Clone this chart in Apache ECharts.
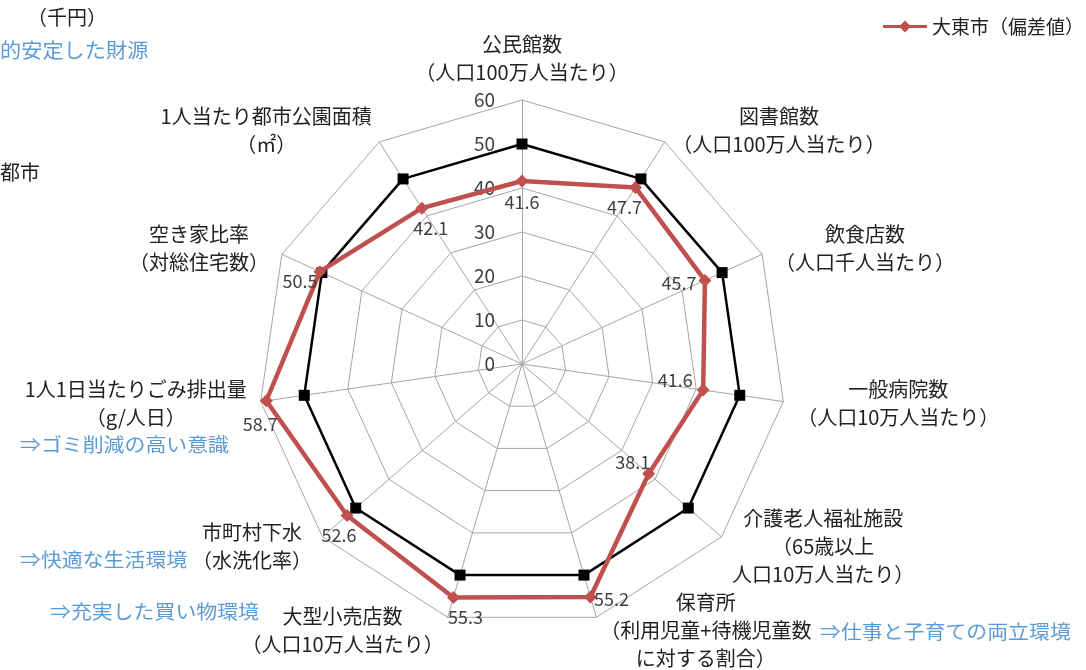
<!DOCTYPE html>
<html>
<head>
<meta charset="utf-8">
<script src="https://cdn.jsdelivr.net/npm/echarts@6/dist/echarts.min.js"></script>
<style>
  html, body { margin: 0; padding: 0; background: #fff; }
  #chart { width: 1086px; height: 670px; }
</style>
</head>
<body>
<div id="chart"></div>
<script>
// Indicators listed clockwise from the top
const indicatorNames = [
  '公民館数\n（人口100万人当たり）',
  '図書館数\n（人口100万人当たり）',
  '飲食店数\n（人口千人当たり）',
  '一般病院数\n（人口10万人当たり）',
  '介護老人福祉施設\n（65歳以上\n人口10万人当たり）',
  '保育所\n（利用児童+待機児童数\nに対する割合）',
  '大型小売店数\n（人口10万人当たり）',
  '市町村下水\n（水洗化率）',
  '1人1日当たりごみ排出量\n（g/人日）',
  '空き家比率\n（対総住宅数）',
  '1人当たり都市公園面積\n（㎡）'
];
const daitoValues = [41.6, 47.7, 45.7, 41.6, 38.1, 55.2, 55.3, 52.6, 58.7, 50.5, 42.1];
const averageValues = [50, 50, 50, 50, 50, 50, 50, 50, 50, 50, 50];
const axisMin = 0;
const axisMax = 60;
const axisStep = 10;
const seriesName = '大東市（偏差値）';

// Side notes written beside the chart
const notes = [
  { text: '（千円）', x: 67, y: 17, align: 'center', color: '#222', size: 20, sx: 1 },
  { text: '的安定した財源', x: 0, y: 50, align: 'left', color: '#5b9bd5', size: 20, sx: 1.06 },
  { text: '都市', x: 0, y: 172, align: 'left', color: '#222', size: 20, sx: 1 },
  { text: '⇒ゴミ削減の高い意識', x: 20, y: 445, align: 'left', color: '#5b9bd5', size: 19, sx: 1.1 },
  { text: '⇒快適な生活環境', x: 20, y: 560, align: 'left', color: '#5b9bd5', size: 19, sx: 1.1 },
  { text: '⇒充実した買い物環境', x: 50, y: 612, align: 'left', color: '#5b9bd5', size: 19, sx: 1.1 },
  { text: '⇒仕事と子育ての両立環境', x: 820, y: 632, align: 'left', color: '#5b9bd5', size: 19, sx: 1.1 }
];

// Placement of each value label around its vertex (clockwise order)
const labelPlacement = [
  { position: 'bottom', distance: 12, offset: [0, 0] },
  { position: 'bottom', distance: 10, offset: [-11, 0] },
  { position: 'left', distance: 8, offset: [0, 3] },
  { position: 'left', distance: 8, offset: [-2, -10] },
  { position: 'top', distance: 2, offset: [-16, 0] },
  { position: 'right', distance: 3, offset: [0, 2] },
  { position: 'bottom', distance: 10, offset: [12, 0] },
  { position: 'bottom', distance: 10, offset: [-8, 0] },
  { position: 'bottom', distance: 14, offset: [-6, 0] },
  { position: 'left', distance: 2, offset: [0, 9] },
  { position: 'bottom', distance: 10, offset: [9, 0] }
];

const FONT = '"Noto Sans CJK JP", "Noto Sans", sans-serif';

// ECharts lays radar indicators out counter-clockwise; map the clockwise list onto that
const n = indicatorNames.length;
const order = [0];
for (let i = n - 1; i >= 1; i--) order.push(i);

const indicator = order.map((k, j) => {
  const item = { name: indicatorNames[k], min: axisMin, max: axisMax };
  if (j === 0) {
    item.axisLabel = {
      show: true, color: '#404040', fontSize: 19, fontFamily: FONT, margin: 27,
      formatter: v => String(v)
    };
  }
  return item;
});

const series = [
  {
    type: 'radar',
    name: '平均',
    z: 2,
    symbol: 'rect',
    symbolSize: 11,
    lineStyle: { color: '#000', width: 2.5 },
    itemStyle: { color: '#000' },
    data: [{ value: order.map(k => averageValues[k]), name: '平均' }]
  },
  {
    type: 'radar',
    name: seriesName,
    z: 3,
    symbol: 'diamond',
    symbolSize: 13,
    lineStyle: { color: '#c0504d', width: 4.5 },
    itemStyle: { color: '#c0504d' },
    data: [{ value: order.map(k => daitoValues[k]), name: seriesName }]
  }
];

// One label carrier per vertex so every value label can sit on its own side
daitoValues.forEach((v, k) => {
  const p = labelPlacement[k];
  series.push({
    type: 'radar',
    name: 'label' + k,
    z: 4,
    symbol: 'circle',
    symbolSize: 1,
    itemStyle: { color: 'rgba(0,0,0,0)' },
    lineStyle: { width: 0, opacity: 0 },
    label: {
      show: true,
      position: p.position,
      distance: p.distance,
      offset: p.offset,
      color: '#404040',
      fontSize: 18,
      fontFamily: FONT
    },
    data: [{ value: order.map(i => (i === k ? v : '-')) }]
  });
});

const chart = echarts.init(document.getElementById('chart'), null, { renderer: 'canvas' });
chart.setOption({
  animation: false,
  backgroundColor: '#ffffff',
  textStyle: { fontFamily: FONT },
  legend: {
    data: [seriesName],
    left: 878,
    top: 12,
    itemWidth: 44,
    itemHeight: 12,
    itemGap: 10,
    icon: 'path://M0,4.5L44,4.5L44,7.5L0,7.5Z M22,0L28,6L22,12L16,6Z',
    textStyle: { color: '#222', fontSize: 19, fontFamily: FONT }
  },
  radar: {
    center: [522, 364],
    radius: 264,
    startAngle: 90,
    splitNumber: (axisMax - axisMin) / axisStep,
    shape: 'polygon',
    nameGap: 14,
    axisName: {
      color: '#222',
      fontFamily: FONT,
      fontSize: 20,
      formatter: name => name.split('\n').map(l => '{c|' + l + '}').join('\n'),
      rich: {
        c: { align: 'center', fontSize: 20, lineHeight: 28, color: '#222', fontFamily: FONT }
      }
    },
    axisLine: { lineStyle: { color: '#a6a6a6', width: 1 } },
    splitLine: { lineStyle: { color: '#a6a6a6', width: 1 } },
    splitArea: { show: false },
    axisTick: { show: false },
    axisLabel: { show: false },
    indicator: indicator
  },
  graphic: notes.map(t => ({
    type: 'text',
    x: t.x,
    y: t.y,
    scaleX: t.sx,
    style: {
      text: t.text,
      fill: t.color,
      fontSize: t.size,
      fontFamily: FONT,
      align: t.align,
      verticalAlign: 'middle'
    }
  })),
  series: series
});
</script>
</body>
</html>
